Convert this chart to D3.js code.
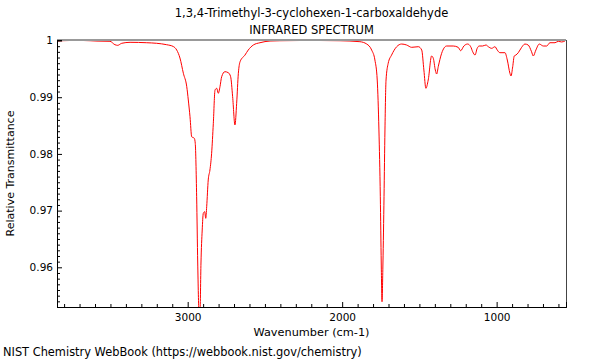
<!DOCTYPE html>
<html>
<head>
<meta charset="utf-8">
<script src="https://cdn.jsdelivr.net/npm/d3@7"></script>
<style>
  html, body { margin: 0; padding: 0; background: #fff; }
  svg { display: block; font-family: "DejaVu Sans", sans-serif; }
</style>
</head>
<body>
<svg id="chart" width="600" height="360"></svg>
<script>
// ---- data ----
const titleLines = ["1,3,4-Trimethyl-3-cyclohexen-1-carboxaldehyde", "INFRARED SPECTRUM"];
const xLabel = "Wavenumber (cm-1)";
const yLabel = "Relative Transmittance";
const footer = "NIST Chemistry WebBook (https://webbook.nist.gov/chemistry)";

const xDomain = [3846, 551];
const yDomain = [0.9530, 1.00009];
const xMajorTicks = [3000, 2000, 1000];
const yMajorTicks = [0.96, 0.97, 0.98, 0.99, 1];
const yTickLabels = ["0.96", "0.97", "0.98", "0.99", "1"];

const wavenumber = [
  3848, 3762, 3676, 3587, 3503, 3471, 3453, 3427, 3373, 3265,
  3201, 3136, 3093, 3071, 3050, 3028, 3006, 2996, 2985, 2974,
  2957, 2951, 2942, 2935, 2927, 2920, 2914, 2906, 2899, 2890,
  2883, 2877, 2867, 2856, 2845, 2834, 2823, 2812, 2802, 2791,
  2780, 2759, 2737, 2722, 2709, 2694, 2683, 2672, 2661, 2629,
  2608, 2575, 2532, 2467, 2403, 2273, 2144, 2014, 1885, 1841,
  1809, 1788, 1773, 1762, 1753, 1747, 1742, 1736, 1729, 1723,
  1716, 1702, 1680, 1647, 1615, 1583, 1550, 1507, 1485, 1471,
  1458, 1443, 1421, 1410, 1397, 1388, 1378, 1356, 1324, 1281,
  1249, 1233, 1212, 1188, 1168, 1155, 1140, 1126, 1113, 1091,
  1069, 1054, 1032, 1011, 996, 979, 946, 931, 914, 907,
  896, 886, 875, 860, 838, 817, 796, 774, 763, 746,
  724, 698, 676, 655, 622, 601, 579, 558
];
const transmittance = [
  0.9999, 1.0000, 1.0000, 0.9999, 0.99986, 0.99926, 0.99915, 0.99951, 0.99968, 0.99961,
  0.99951, 0.99926, 0.99894, 0.99832, 0.99691, 0.99422, 0.99185, 0.98951, 0.98656, 0.98303,
  0.98275, 0.98187, 0.97245, 0.96076, 0.9525, 0.9525, 0.96076, 0.96658, 0.96952, 0.96981,
  0.96864, 0.97069, 0.9754, 0.97716, 0.98011, 0.9854, 0.99127, 0.99157, 0.99069, 0.99185,
  0.99362, 0.9945, 0.99432, 0.99362, 0.99009, 0.9851, 0.98892, 0.99422, 0.99626, 0.99744,
  0.99832, 0.99921, 0.99961, 0.99991, 0.99996, 1.0000, 1.0000, 0.99996, 0.99979, 0.99938,
  0.99832, 0.99656, 0.99303, 0.98422, 0.97245, 0.96076, 0.95393, 0.96076, 0.97245, 0.98422,
  0.99303, 0.99598, 0.99744, 0.99891, 0.99938, 0.99921, 0.9988, 0.99891, 0.99832, 0.9948,
  0.99157, 0.99303, 0.99727, 0.99686, 0.9948, 0.99409, 0.99538, 0.99774, 0.99903, 0.99903,
  0.9988, 0.9982, 0.99903, 0.99938, 0.99891, 0.99802, 0.99744, 0.99862, 0.99903, 0.99903,
  0.99921, 0.99891, 0.99862, 0.99891, 0.99832, 0.99785, 0.99785, 0.99656, 0.99422, 0.99374,
  0.99538, 0.99727, 0.99744, 0.99785, 0.9988, 0.99938, 0.99921, 0.99802, 0.99727, 0.99832,
  0.99938, 0.99903, 0.99903, 0.99961, 0.99961, 0.99986, 0.99974, 0.99991
];

// ---- layout ----
const plot = { left: 57, right: 566, top: 40, bottom: 307 };
const svg = d3.select("#chart");
const x = d3.scaleLinear().domain(xDomain).range([plot.left, plot.right]);
const y = d3.scaleLinear().domain(yDomain).range([plot.bottom, plot.top]);
const pts = wavenumber.map((w, i) => ({ w, t: transmittance[i] }));

svg.append("defs").append("clipPath").attr("id", "clip")
  .append("rect")
  .attr("x", plot.left).attr("y", plot.top)
  .attr("width", plot.right - plot.left).attr("height", plot.bottom - plot.top);

// spectrum
const line = d3.line().x(d => x(d.w)).y(d => y(d.t)).curve(d3.curveMonotoneX);
svg.append("path")
  .datum(pts)
  .attr("clip-path", "url(#clip)")
  .attr("fill", "none")
  .attr("stroke", "#ff0000")
  .attr("stroke-width", 1)
  .attr("d", line);

// frame: grey top, dark right
svg.append("line")
  .attr("x1", plot.left).attr("x2", plot.right)
  .attr("y1", plot.top).attr("y2", plot.top)
  .attr("stroke", "#999").attr("stroke-width", 2);
svg.append("line")
  .attr("x1", plot.right + 0.5).attr("x2", plot.right + 0.5)
  .attr("y1", plot.top).attr("y2", plot.bottom)
  .attr("stroke", "#444").attr("stroke-width", 1);

const tickFont = 10.5;

// x axis (ticks pointing inward)
const xMinor = d3.range(3800, 550, -100).filter(v => xMajorTicks.indexOf(v) < 0);
const gxm = svg.append("g").attr("transform", `translate(0,${plot.bottom})`)
  .call(d3.axisBottom(x).tickValues(xMinor).tickSize(-3).tickFormat(""));
const gx = svg.append("g").attr("transform", `translate(0,${plot.bottom})`)
  .call(d3.axisBottom(x).tickValues(xMajorTicks).tickSize(-5).tickPadding(7).tickFormat(d3.format("d")));
[gxm, gx].forEach(g => {
  g.select(".domain").attr("stroke", "#000");
  g.selectAll(".tick line").attr("stroke", "#000");
});
gx.selectAll(".tick text")
  .attr("font-family", "DejaVu Sans, sans-serif")
  .attr("font-size", tickFont).attr("fill", "#000");

// y axis (ticks pointing inward)
const yMinor = d3.range(953, 1001).map(v => v / 1000)
  .filter(v => yMajorTicks.every(m => Math.abs(m - v) > 1e-9));
const gym = svg.append("g").attr("transform", `translate(${plot.left},0)`)
  .call(d3.axisLeft(y).tickValues(yMinor).tickSize(-3).tickFormat(""));
const gy = svg.append("g").attr("transform", `translate(${plot.left},0)`)
  .call(d3.axisLeft(y).tickValues(yMajorTicks).tickSize(-5).tickPadding(4)
    .tickFormat((d, i) => yTickLabels[i]));
[gym, gy].forEach(g => {
  g.select(".domain").attr("stroke", "#000");
  g.selectAll(".tick line").attr("stroke", "#000");
});
gy.selectAll(".tick text")
  .attr("font-family", "DejaVu Sans, sans-serif")
  .attr("font-size", tickFont).attr("fill", "#000");

// titles and labels
const cx = (plot.left + plot.right) / 2;
svg.append("text").attr("x", cx).attr("y", 17).attr("text-anchor", "middle")
  .attr("font-size", 11.5).text(titleLines[0]);
svg.append("text").attr("x", cx).attr("y", 34).attr("text-anchor", "middle")
  .attr("font-size", 11.5).text(titleLines[1]);
svg.append("text").attr("x", cx).attr("y", 336).attr("text-anchor", "middle")
  .attr("font-size", 11.3).text(xLabel);
svg.append("text")
  .attr("transform", `translate(14,${(plot.top + plot.bottom) / 2}) rotate(-90)`)
  .attr("text-anchor", "middle").attr("font-size", 11).text(yLabel);
svg.append("text").attr("x", 3).attr("y", 356).attr("font-size", 11.4).text(footer);
</script>
</body>
</html>
